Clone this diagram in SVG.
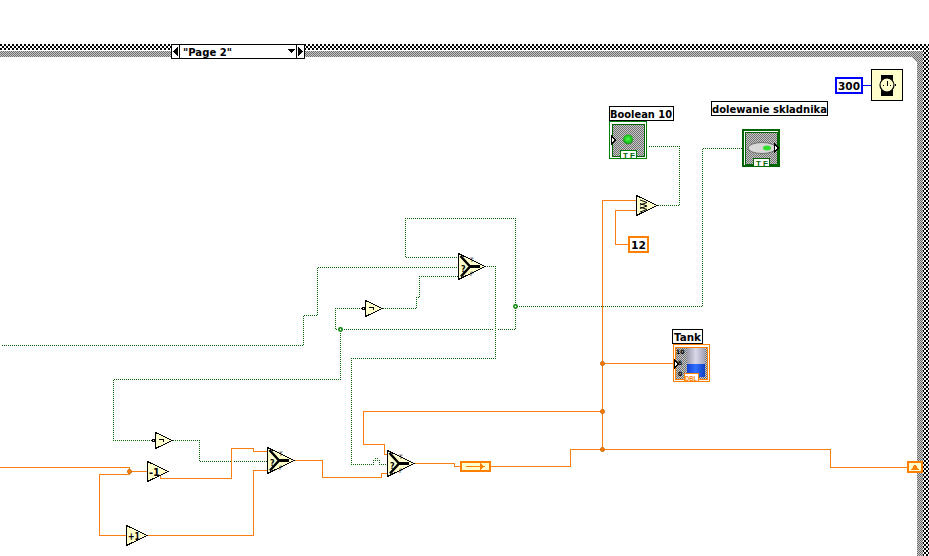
<svg xmlns="http://www.w3.org/2000/svg" width="929" height="556" viewBox="0 0 929 556" shape-rendering="crispEdges">
  <style>
    text { font-family: "DejaVu Sans", "Liberation Sans", sans-serif; font-weight: bold; fill: #000; }
    .wire { fill: none; stroke-width: 1; }
    .bool { stroke: #006400; stroke-dasharray: 1 1; stroke-dashoffset: 0.5; }
    .bool .alt { stroke-dashoffset: 1.5; }
    .int { stroke: #f88010; }
    .prim { fill: #ffffcc; stroke: #000; stroke-width: 1; }
    .label { fill: #fff; stroke: #000; stroke-width: 1; }
    .glyph { fill: none; stroke: #000; stroke-width: 1; }
    .heavy { fill: none; stroke: #000; stroke-width: 2.500; }
    .name { font-size: 11px; }
    .tag { font-family: "Liberation Sans", sans-serif; font-size: 8px; fill: #006400; letter-spacing: 2px; }
    .tick { font-size: 6px; }
  </style>
  <defs>
    <pattern id="checker" width="4" height="4" patternUnits="userSpaceOnUse">
      <rect width="4" height="4" fill="#fff"/>
      <rect width="2" height="2" fill="#000"/>
      <rect x="2" y="2" width="2" height="2" fill="#000"/>
    </pattern>
    <pattern id="grain" width="2" height="2" patternUnits="userSpaceOnUse">
      <rect width="2" height="2" fill="#c8c8c8"/>
      <rect width="1" height="1" fill="#707070"/>
      <rect x="1" y="1" width="1" height="1" fill="#707070"/>
    </pattern>
    <radialGradient id="led" cx="50%" cy="45%" r="55%">
      <stop offset="0" stop-color="#50ff50"/>
      <stop offset="0.7" stop-color="#18c018"/>
      <stop offset="1" stop-color="#307030"/>
    </radialGradient>
    <linearGradient id="tankTop" x1="0" y1="0" x2="1" y2="0">
      <stop offset="0" stop-color="#9898a8"/>
      <stop offset="0.5" stop-color="#d8d8e8"/>
      <stop offset="1" stop-color="#a0a0b8"/>
    </linearGradient>
    <linearGradient id="tankFill" x1="0" y1="0" x2="1" y2="0">
      <stop offset="0" stop-color="#1040d0"/>
      <stop offset="0.5" stop-color="#3070ff"/>
      <stop offset="1" stop-color="#1040c0"/>
    </linearGradient>
    <g id="select">
      <path class="prim" d="M0.500 0.500 L27 13.500 L0.500 26.500 Z"/>
      <path class="heavy" shape-rendering="auto" d="M2.500 3 L12 13.500 L3 23.500"/>
      <rect x="11" y="12" width="11" height="3" fill="#000"/>
      <text x="3" y="19" style="font-size:8px">?</text>
      <text x="12" y="9" style="font-size:6px;font-weight:normal">T</text>
      <text x="12" y="23" style="font-size:6px;font-weight:normal">F</text>
    </g>
    <g id="not">
      <circle cx="-1.500" cy="8.500" r="1.500" fill="#fff" stroke="#000"/>
      <path class="prim" d="M0.500 0.500 L17 8.500 L0.500 16.500 Z"/>
      <path class="glyph" d="M3.500 7.500 H8.500 V10"/>
    </g>
  </defs>

  <rect width="929" height="556" fill="#fff"/>

  <!-- structure frame of the case -->
  <g id="case-frame">
    <rect x="0" y="44" width="929" height="6" fill="url(#checker)"/>
    <rect x="0" y="51" width="917" height="6" fill="url(#grain)"/>
    <rect x="923" y="44" width="6" height="512" fill="url(#checker)"/>
    <rect x="917" y="51" width="6" height="505" fill="url(#grain)"/>
    <path d="M911 57 H917 V63 Z" fill="url(#grain)"/>
  </g>

  <g id="case-selector">
    <rect x="171.500" y="44.500" width="133" height="14" fill="#fff" stroke="#000"/>
    <path d="M179.500 44.500 V58.500 M296.500 44.500 V58.500" stroke="#000" fill="none"/>
    <path d="M173 51.500 L178 47 V56 Z M303 51.500 L298 47 V56 Z M287 49 H295 L291 53 Z" fill="#000"/>
    <text x="183" y="56" class="name" textLength="49" lengthAdjust="spacingAndGlyphs">"Page 2"</text>
  </g>

  <!-- connectors; boolean runs start on pixel centres so the dots stay even -->
  <g id="connectors">
    <g class="wire bool">
      <path d="M458.500 257.500 H405.500 V218.500 H515.500 V329.500 H497.500 M492.500 329.500 H340.500"/>
      <path d="M0.500 345.500 H303.500 V315.500 H317.500 V267.500 H458.500"/>
      <path class="alt" d="M458.500 276.500 H419.500 V297.500 H416.500 V308.500 H382.500"/>
      <path class="alt" d="M360.500 308.500 H335.500 V329.500 H340.500"/>
      <path d="M340.500 329.500 V379.500 H113.500 V440.500 H153.500"/>
      <path class="alt" d="M172.500 440.500 H199.500 V461.500 H230.500 M233.500 461.500 H267.500"/>
      <path d="M485.500 266.500 H495.500 V358.500 H351.500 V464.500 H373.500 V460.500 H375.500 V458.500 H377.500 V460.500 H379.500 V464.500 H387.500"/>
      <path d="M515.500 306.500 H702.500 V148.500 H742.500"/>
      <path class="alt" d="M657.500 205.500 H679.500 V146.500 H647.500"/>
    </g>
    <path class="wire" stroke="#0000ff" d="M863 85.500 H871"/>
    <g class="wire int">
      <path d="M0 467.500 H129.500 V471.500 H147 M129.500 471.500 V474.500 H99.500 V535.500 H126"/>
      <path d="M147 535.500 H253.500 V470.500 H267"/>
      <path d="M160.500 476 V478.500 H231.500 V448.500 H253.500 V451.500 H267"/>
      <path d="M294 460.500 H322.500 V477.500 H381.500 V473.500 H387"/>
      <path d="M414 463.500 H454.500 V466.500 H460"/>
      <path d="M490 466.500 H570.500 V449.500 H830.500 V467.500 H907"/>
      <path d="M602.500 449.500 V200.500 H636"/>
      <path d="M636 210.500 H615.500 V244.500 H628"/>
      <path d="M602.500 363.500 H673"/>
      <path d="M602.500 411.500 H363.500 V444.500 H384.500 V454.500 H387"/>
    </g>
    <g fill="#ff8000" stroke="#c86400" shape-rendering="auto">
      <circle cx="602.500" cy="363.500" r="2"/>
      <circle cx="602.500" cy="411.500" r="2"/>
      <circle cx="602.500" cy="449.500" r="2"/>
      <circle cx="129.500" cy="471.500" r="2"/>
    </g>
    <g fill="#fff" stroke="#008000" stroke-width="1.500" shape-rendering="auto">
      <circle cx="340.500" cy="329.500" r="1.700"/>
      <circle cx="515.500" cy="306.500" r="1.700"/>
    </g>
  </g>

  <!-- block diagram nodes -->
  <g id="wait-const">
    <rect x="836" y="78" width="26" height="15" fill="#fff" stroke="#0000ff" stroke-width="2"/>
    <text x="838" y="90" class="name" textLength="22" lengthAdjust="spacingAndGlyphs">300</text>
  </g>
  <g id="wait-timer">
    <rect x="871.500" y="69.500" width="31" height="31" fill="#ffffcc" stroke="#000"/>
    <rect x="881" y="75" width="12" height="21" fill="#000"/>
    <circle cx="887" cy="85" r="7" fill="#ffffcc" stroke="#000" stroke-width="1.200" shape-rendering="auto"/>
    <path d="M887 81 V86 M883 85 H884 M890 85 H891" stroke="#000" fill="none"/>
    <rect x="895" y="84" width="1" height="2" fill="#000"/>
  </g>

  <g id="boolean-10">
    <rect x="609.500" y="106.500" width="64" height="14" class="label"/>
    <text x="610" y="118" class="name" textLength="62" lengthAdjust="spacingAndGlyphs">Boolean 10</text>
    <rect x="609.500" y="121.500" width="37" height="37" fill="#fff" stroke="#008000"/>
    <rect x="612" y="124" width="32" height="32" fill="url(#grain)" stroke="#006400"/>
    <rect x="620.500" y="150.500" width="16" height="8" fill="#fff" stroke="#008000"/>
    <text x="623" y="158" class="tag">TF</text>
    <circle cx="628" cy="139.500" r="5" fill="url(#led)" shape-rendering="auto"/>
    <path d="M611.500 136 L615.500 140 L611.500 144 Z" fill="#fff" stroke="#000"/>
  </g>

  <g id="dolewanie-skladnika">
    <rect x="711.500" y="101.500" width="116" height="14" class="label"/>
    <text x="712" y="113" class="name" textLength="115" lengthAdjust="spacingAndGlyphs">dolewanie skladnika</text>
    <rect x="743" y="130" width="36" height="36" fill="#fff" stroke="#006400" stroke-width="2"/>
    <rect x="745" y="132" width="32" height="32" fill="url(#grain)" stroke="#006400"/>
    <ellipse cx="762" cy="148" rx="14" ry="5.500" fill="#d8d8d8" stroke="#707070" shape-rendering="auto"/>
    <ellipse cx="767" cy="148" rx="4" ry="2.500" fill="#30e030" shape-rendering="auto"/>
    <rect x="753.500" y="158.500" width="16" height="8" fill="#fff" stroke="#006400"/>
    <text x="756" y="166" class="tag">TF</text>
    <path d="M774.500 144 L778.500 148 L774.500 152 Z" fill="#fff" stroke="#000"/>
  </g>

  <g id="tank">
    <rect x="672.500" y="329.500" width="30" height="14" class="label"/>
    <text x="674" y="341" class="name" textLength="27" lengthAdjust="spacingAndGlyphs">Tank</text>
    <rect x="673" y="344.500" width="36.500" height="37" fill="#fff" stroke="#ff8000"/>
    <rect x="675" y="347" width="32.500" height="32.500" fill="url(#grain)" stroke="#ff8000"/>
    <rect x="686.500" y="348" width="18.500" height="16" fill="url(#tankTop)"/>
    <rect x="686.500" y="364" width="18.500" height="13" fill="url(#tankFill)"/>
    <text x="676" y="354" class="tick">10</text>
    <text x="678" y="365" class="tick">5</text>
    <text x="678" y="376" class="tick">0</text>
    <rect x="684" y="373.500" width="14" height="8" fill="#fff" stroke="#ff8000"/>
    <text x="685" y="380.500" style="font-family:'Liberation Sans',sans-serif;font-size:7px;fill:#ff8000" textLength="12" lengthAdjust="spacingAndGlyphs">DBL</text>
    <path d="M674.500 360 L678.500 364 L674.500 368 Z" fill="#fff" stroke="#000"/>
  </g>

  <g id="multiply">
    <path class="prim" d="M636.500 195.500 L657 205.500 L636.500 215.500 Z"/>
    <path class="glyph" shape-rendering="auto" d="M640 200 L647 202.500 L640 205 M640 203.500 L647 206 L640 208.500 M640 207 L647 209.500 L640 212"/>
  </g>
  <g id="const-12">
    <rect x="629" y="237" width="19" height="15" fill="#fff" stroke="#ff8000" stroke-width="2"/>
    <text x="631" y="248.500" class="name" textLength="15" lengthAdjust="spacingAndGlyphs">12</text>
  </g>

  <use id="select-top" href="#select" x="458" y="253"/>
  <use id="not-top" href="#not" x="365" y="300"/>
  <use id="not-bottom" href="#not" x="155" y="432"/>

  <g id="decrement">
    <path class="prim" d="M147.500 461.500 L168 471.500 L147.500 481.500 Z"/>
    <text x="149" y="475.500" style="font-size:11px" textLength="11" lengthAdjust="spacingAndGlyphs">-1</text>
  </g>
  <g id="increment">
    <path class="prim" d="M126.500 525.500 L147 535.500 L126.500 545.500 Z"/>
    <text x="128" y="539.500" style="font-size:10px" textLength="12" lengthAdjust="spacingAndGlyphs">+1</text>
  </g>

  <use id="select-mid" href="#select" x="267" y="447"/>
  <use id="select-right" href="#select" x="387" y="450"/>

  <g id="to-double">
    <rect x="460.500" y="461.500" width="29" height="9" fill="#ffffcc" stroke="#ff8000" stroke-width="2"/>
    <path d="M466 466.500 H483 M480 463.500 L484 466.500 L480 469.500 Z" stroke="#ff8000" fill="#ff8000"/>
  </g>

  <g id="loop-tunnel">
    <rect x="908" y="462" width="14" height="10" fill="#ffffcc" stroke="#ff8000" stroke-width="2"/>
    <path d="M911 470 L915 464 L919 470 Z" fill="#ff8000"/>
  </g>
</svg>
